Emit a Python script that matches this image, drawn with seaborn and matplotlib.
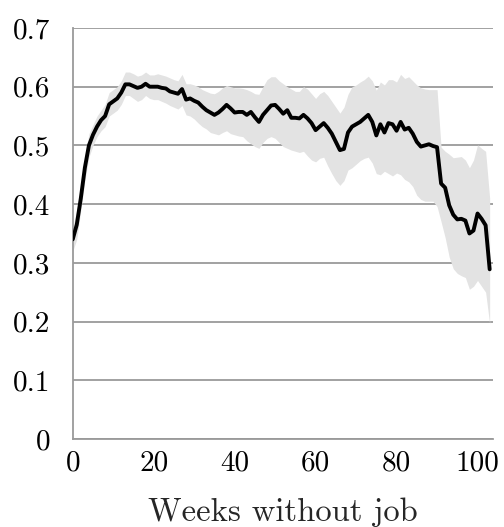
import numpy as np
import pandas as pd
import matplotlib
matplotlib.use("Agg")
import matplotlib.pyplot as plt
import seaborn as sns

weeks = list(range(0, 104))
mean_rate = [
    0.340, 0.365, 0.410, 0.462, 0.500, 0.518, 0.532, 0.543, 0.550, 0.570,
    0.575, 0.580, 0.590, 0.604, 0.604, 0.601, 0.598, 0.600, 0.605, 0.600,
    0.600, 0.600, 0.598, 0.597, 0.592, 0.590, 0.588, 0.596, 0.578, 0.580,
    0.576, 0.573, 0.566, 0.560, 0.556, 0.552, 0.556, 0.562, 0.569, 0.563,
    0.556, 0.557, 0.557, 0.552, 0.557, 0.548, 0.540, 0.552, 0.560, 0.568,
    0.569, 0.562, 0.554, 0.560, 0.547, 0.547, 0.546, 0.552, 0.546, 0.538,
    0.526, 0.532, 0.538, 0.530, 0.520, 0.506, 0.492, 0.494, 0.522, 0.532,
    0.536, 0.540, 0.546, 0.552, 0.540, 0.517, 0.536, 0.522, 0.538, 0.536,
    0.525, 0.540, 0.527, 0.530, 0.520, 0.506, 0.498, 0.500, 0.502, 0.499,
    0.497, 0.435, 0.428, 0.398, 0.382, 0.374, 0.375, 0.372, 0.350, 0.355,
    0.384, 0.375, 0.364, 0.289,
]
upper_ci = [
    0.36, 0.39, 0.43, 0.48, 0.52, 0.535, 0.55, 0.56, 0.57, 0.59,
    0.595, 0.60, 0.61, 0.625, 0.625, 0.622, 0.618, 0.62, 0.625, 0.62,
    0.62, 0.622, 0.62, 0.618, 0.615, 0.612, 0.61, 0.621, 0.605, 0.605,
    0.603, 0.60, 0.595, 0.592, 0.589, 0.588, 0.592, 0.598, 0.602, 0.60,
    0.598, 0.598, 0.597, 0.595, 0.592, 0.588, 0.587, 0.60, 0.612, 0.617,
    0.617, 0.610, 0.605, 0.600, 0.596, 0.592, 0.592, 0.600, 0.596, 0.588,
    0.580, 0.588, 0.592, 0.585, 0.575, 0.565, 0.555, 0.565, 0.587, 0.600,
    0.603, 0.608, 0.612, 0.618, 0.610, 0.594, 0.608, 0.603, 0.612, 0.612,
    0.608, 0.621, 0.614, 0.617, 0.610, 0.603, 0.598, 0.596, 0.595, 0.595,
    0.595, 0.497, 0.490, 0.485, 0.479, 0.480, 0.481, 0.475, 0.462, 0.475,
    0.501, 0.495, 0.490, 0.41,
]
lower_ci = [
    0.32, 0.34, 0.39, 0.44, 0.48, 0.50, 0.515, 0.525, 0.532, 0.55,
    0.555, 0.56, 0.57, 0.585, 0.585, 0.58, 0.575, 0.578, 0.585, 0.58,
    0.578, 0.578, 0.575, 0.572, 0.568, 0.565, 0.562, 0.568, 0.552, 0.55,
    0.545, 0.538, 0.532, 0.528, 0.522, 0.52, 0.518, 0.522, 0.525, 0.52,
    0.518, 0.516, 0.515, 0.508, 0.503, 0.498, 0.495, 0.505, 0.512, 0.515,
    0.512, 0.505, 0.498, 0.495, 0.492, 0.49, 0.488, 0.49, 0.482, 0.475,
    0.472, 0.478, 0.48, 0.465, 0.452, 0.44, 0.432, 0.44, 0.458, 0.462,
    0.468, 0.474, 0.478, 0.48, 0.47, 0.452, 0.45, 0.456, 0.452, 0.448,
    0.453, 0.45, 0.442, 0.438, 0.43, 0.415, 0.408, 0.405, 0.405, 0.405,
    0.396, 0.37, 0.343, 0.31, 0.29, 0.282, 0.278, 0.275, 0.255, 0.26,
    0.27, 0.26, 0.25, 0.196,
]
x_ticks = [0, 10, 20, 30, 40, 50, 60, 70, 80, 90, 100]
x_ticklabels = ["0", "", "20", "", "40", "", "60", "", "80", "", "100"]
y_ticks = [0, 0.1, 0.2, 0.3, 0.4, 0.5, 0.6, 0.7]
y_ticklabels = ["0", "0.1", "0.2", "0.3", "0.4", "0.5", "0.6", "0.7"]
x_label = "Weeks without job"

sns.set_style("white")
plt.rcParams["font.family"] = ["cmr10", "DejaVu Serif"]
plt.rcParams["axes.formatter.use_mathtext"] = True

df = pd.DataFrame({"week": weeks, "rate": mean_rate, "lo": lower_ci, "hi": upper_ci})

fig = plt.figure(figsize=(5.04, 5.27), dpi=100)
ax = fig.add_axes([0.1443, 0.167, 0.8337, 0.7799])

grid_col = "#9a9a9a"
ax.fill_between(df["week"], df["lo"], df["hi"], color="#e3e3e3", linewidth=0, zorder=1)
sns.lineplot(data=df, x="week", y="rate", ax=ax, color="black", linewidth=2.8, zorder=3)

ax.set_xlim(0, 103.8)
ax.set_ylim(0, 0.7)
ax.set_xticks(x_ticks)
ax.set_xticklabels(x_ticklabels)
ax.set_yticks(y_ticks)
ax.set_yticklabels(y_ticklabels)
ax.yaxis.grid(True, color=grid_col, linewidth=1.3, zorder=0)
ax.xaxis.grid(False)
ax.set_axisbelow(True)

for s in ["top", "right"]:
    ax.spines[s].set_visible(False)
for s in ["left", "bottom"]:
    ax.spines[s].set_color(grid_col)
    ax.spines[s].set_linewidth(1.3)

ax.tick_params(axis="both", direction="out", width=1.3, color=grid_col,
               labelsize=21, labelcolor="black")
ax.tick_params(axis="y", length=6.2, pad=10)
ax.tick_params(axis="x", length=5, pad=3)

ax.set_xlabel(x_label, fontsize=23.5, labelpad=15)
ax.set_ylabel("")

fig.savefig("out.png", dpi=100)
